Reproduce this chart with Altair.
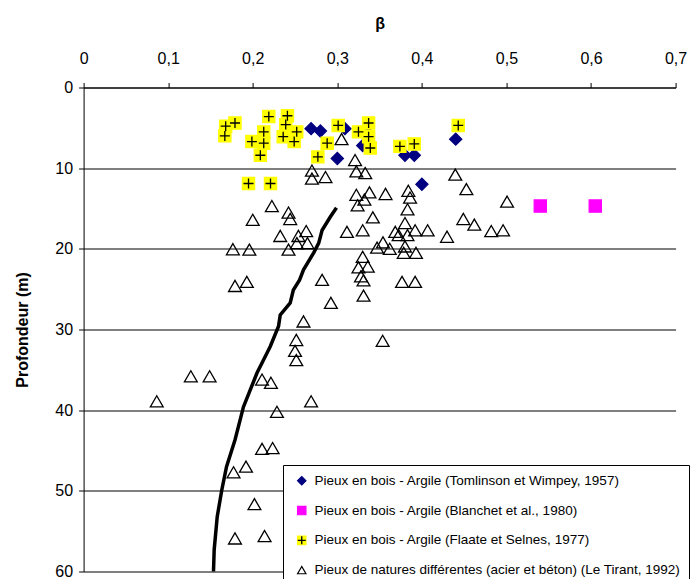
import altair as alt
import pandas as pd

# ---------------- data ----------------
S1 = "Pieux en bois - Argile (Tomlinson et Wimpey, 1957)"
S2 = "Pieux en bois - Argile (Blanchet et al., 1980)"
S3 = "Pieux en bois - Argile (Flaate et Selnes, 1977)"
S4 = "Pieux de natures différentes (acier et béton) (Le Tirant, 1992)"
series_names = [S1, S2, S3, S4]

diamond_beta = [0.269, 0.280, 0.309, 0.300, 0.330, 0.336, 0.380, 0.391, 0.440, 0.400]
diamond_depth = [5.1, 5.4, 5.1, 8.8, 7.2, 5.6, 8.4, 8.4, 6.4, 12.0]

square_beta = [0.540, 0.605]
square_depth = [14.7, 14.7]

cross_beta = [0.213, 0.337, 0.167, 0.168, 0.179, 0.219, 0.241, 0.239, 0.252, 0.236,
              0.199, 0.213, 0.249, 0.209, 0.277, 0.301, 0.337, 0.325, 0.288, 0.339,
              0.374, 0.391, 0.443, 0.195, 0.221]
cross_depth = [5.5, 6.1, 6.0, 4.8, 4.4, 3.6, 3.5, 4.6, 5.5, 6.1,
               6.7, 6.9, 6.7, 8.4, 8.6, 4.7, 4.4, 5.5, 6.9, 7.5,
               7.3, 7.0, 4.7, 11.9, 11.9]

tri_beta = [0.305, 0.321, 0.270, 0.270, 0.286, 0.3225, 0.333, 0.4395, 0.4526, 0.3225,
            0.338, 0.357, 0.384, 0.386, 0.332, 0.324, 0.383, 0.5007, 0.2226, 0.2423,
            0.2443, 0.342, 0.380, 0.449, 0.462, 0.200, 0.2325, 0.254, 0.2632, 0.2522,
            0.2647, 0.2423, 0.3114, 0.330, 0.3685, 0.3725, 0.392, 0.4068, 0.383, 0.4297,
            0.482, 0.496, 0.347, 0.354, 0.362, 0.3785, 0.393, 0.380, 0.330, 0.325,
            0.336, 0.328, 0.331, 0.282, 0.3765, 0.392, 0.331, 0.1765, 0.196, 0.179,
            0.193, 0.2924, 0.260, 0.2515, 0.250, 0.2515, 0.3536, 0.1268, 0.149, 0.211,
            0.2215, 0.0865, 0.269, 0.2286, 0.211, 0.2235, 0.1773, 0.192, 0.202, 0.179,
            0.214]
tri_depth = [6.4, 9.0, 10.3, 11.3, 11.1, 10.4, 10.6, 10.8, 12.6, 13.3,
             13.0, 13.2, 12.8, 13.65, 13.9, 14.6, 15.1, 14.15, 14.7, 15.5,
             16.3, 16.1, 16.8, 16.3, 17.0, 16.4, 18.4, 18.4, 17.8, 19.3,
             19.3, 20.1, 17.9, 17.7, 17.9, 18.3, 17.7, 17.7, 18.3, 18.5,
             17.8, 17.7, 19.85, 19.2, 20.0, 20.5, 20.5, 19.7, 21.0, 22.3,
             22.2, 23.4, 23.9, 23.85, 24.1, 24.1, 25.8, 20.05, 20.1, 24.6,
             24.1, 26.7, 29.0, 31.3, 32.65, 33.8, 31.4, 35.8, 35.8, 36.2,
             36.6, 38.9, 38.9, 40.2, 44.8, 44.7, 47.7, 47.0, 51.65, 55.9,
             55.6]

curve_beta = [0.299, 0.292, 0.282, 0.278, 0.272, 0.260, 0.2554, 0.248, 0.2443, 0.2325,
              0.2305, 0.2207, 0.205, 0.189, 0.179, 0.169, 0.1634, 0.158, 0.1544, 0.1536]
curve_depth = [14.9, 16.0, 17.7, 19.3, 20.5, 22.6, 23.85, 25.1, 26.7, 28.2,
               29.6, 32.1, 35.4, 39.6, 43.7, 47.0, 49.9, 53.2, 57.3, 60.0]

x_ticks = [0, 0.1, 0.2, 0.3, 0.4, 0.5, 0.6, 0.7]
y_ticks = [0, 10, 20, 30, 40, 50, 60]

# ---------------- tables ----------------
front = pd.DataFrame({
    "beta": diamond_beta + square_beta + cross_beta,
    "depth": diamond_depth + square_depth + cross_depth,
    "serie": [S1] * len(diamond_beta) + [S2] * len(square_beta) + [S3] * len(cross_beta),
})
tris = pd.DataFrame({"beta": tri_beta, "depth": tri_depth, "serie": [S4] * len(tri_beta)})
plus = pd.DataFrame({"beta": cross_beta, "depth": cross_depth, "sym": ["c"] * len(cross_beta)})
curve = pd.DataFrame({"beta": curve_beta, "depth": curve_depth, "idx": list(range(len(curve_beta)))})

W, H = 592, 484
FONT = "Liberation Sans"
PLUS = "M-1,0L1,0M0,-1L0,1"

x_enc = alt.X(
    "beta:Q",
    scale=alt.Scale(domain=[0, 0.7], nice=False, zero=False),
    axis=alt.Axis(
        orient="top", values=x_ticks, grid=False,
        labelExpr="replace(format(datum.value, '~g'), '.', ',')",
        domainColor="black", domainWidth=1, tickColor="black", tickSize=5, tickWidth=1,
        labelFontSize=16, labelColor="black", labelPadding=19, labelBaseline="alphabetic",
        labelFlush=False, labelOverlap=False,
        title="β", titleFontSize=16, titleFontWeight="bold", titleColor="black",
        titleX=W / 2, titleY=-59, titleAlign="center", titleBaseline="alphabetic",
    ),
)
y_enc = alt.Y(
    "depth:Q",
    scale=alt.Scale(domain=[0, 60], nice=False, zero=False, reverse=True),
    axis=alt.Axis(
        orient="left", values=y_ticks, grid=True, gridColor="black", gridWidth=1, gridOpacity=1,
        domainColor="black", domainWidth=1, tickColor="black", tickSize=5, tickWidth=1,
        labelFontSize=16, labelColor="black", labelPadding=6, labelFlush=False, labelOverlap=False,
        title="Profondeur (m)", titleFontSize=16, titleFontWeight="bold", titleColor="black",
        titleX=-61.6, titleY=H / 2, titleAngle=270, titleAlign="center", titleBaseline="middle",
    ),
)

LX, LY = 199.4, 377.5
LFS = 13.5
legend_main = alt.Legend(
    title=None, orient="none", legendX=LX, legendY=LY,
    fillColor="white", strokeColor="black", padding=9, symbolOffset=3,
    labelFontSize=LFS, labelColor="black", labelLimit=600, labelOffset=6,
    symbolSize=70, symbolStrokeWidth=1.2, rowPadding=14.8,
)
legend_plus = alt.Legend(
    title=None, orient="none", legendX=LX, legendY=LY,
    padding=9, symbolOffset=3,
    labelFontSize=LFS, labelColor="transparent", labelLimit=600, labelOffset=6,
    labelExpr="' '",
    symbolSize=64, symbolStrokeWidth=1.3, rowPadding=14.8,
)

fill_enc = alt.Fill("serie:N", scale=alt.Scale(domain=series_names,
                    range=["#000080", "#FF00FF", "#FFFF00", "transparent"]), legend=legend_main)
stroke_enc = alt.Stroke("serie:N", scale=alt.Scale(domain=series_names,
                        range=["#000080", "#FF00FF", "#FFFF00", "black"]), legend=legend_main)
shape_enc = alt.Shape("serie:N", scale=alt.Scale(domain=series_names,
                      range=["diamond", "square", "square", "triangle-up"]), legend=legend_main)

layer_front = alt.Chart(front).mark_point(size=150, opacity=1, strokeWidth=1.2).encode(
    x=x_enc, y=y_enc, fill=fill_enc, stroke=stroke_enc, shape=shape_enc
)
layer_plus = alt.Chart(plus).mark_point(shape=PLUS, size=100, opacity=1, filled=False, strokeWidth=1.3).encode(
    x=x_enc, y=y_enc,
    color=alt.Color("sym:N", scale=alt.Scale(domain=["a", "b", "c", "d"],
                    range=["transparent", "transparent", "black", "transparent"]),
                    legend=legend_plus),
)
layer_tri = alt.Chart(tris).mark_point(size=165, opacity=1, strokeWidth=1.3).encode(
    x=x_enc, y=y_enc, fill=fill_enc, stroke=stroke_enc, shape=shape_enc
)
layer_curve = alt.Chart(curve).mark_line(color="black", strokeWidth=3.5).encode(
    x=x_enc, y=y_enc, order="idx:Q"
)

chart = alt.layer(layer_front, layer_plus, layer_tri, layer_curve).properties(
    width=W, height=H,
    padding={"left": 83.6, "top": 87.5, "right": 14.4, "bottom": 7.5},
    autosize=alt.AutoSizeParams(type="none"),
    background="white",
).configure(font=FONT).configure_view(stroke=None)

chart.save("out.html", embed_options={"renderer": "svg", "actions": False})
